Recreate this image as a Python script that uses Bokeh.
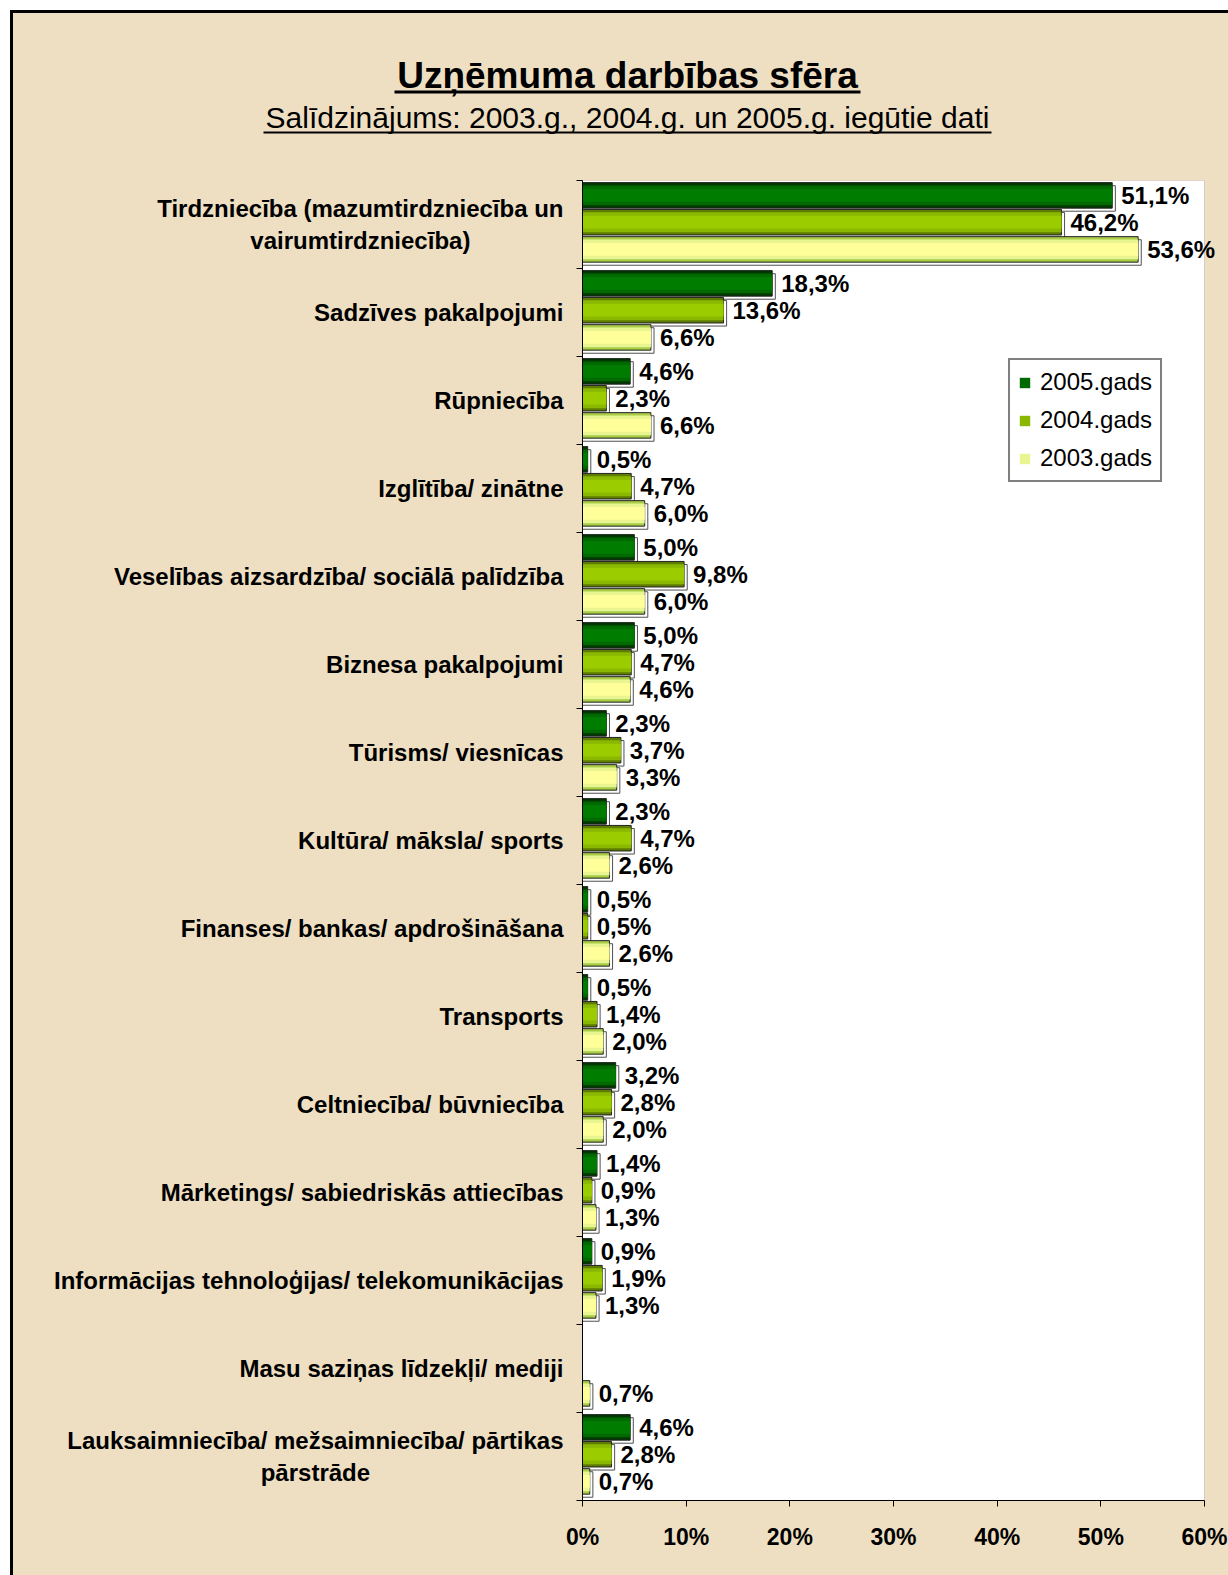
from bokeh.plotting import figure
from bokeh.layouts import column, row
from bokeh.models import (ColumnDataSource, FixedTicker, LabelSet, BoxAnnotation,
                          Legend, LegendItem, PrintfTickFormatter, Range1d)
from bokeh.transform import dodge
from bokeh.core.properties import value
from bokeh.embed import file_html
from bokeh.resources import INLINE

TITLE = "Uzņēmuma darbības sfēra"
SUBTITLE = "Salīdzinājums: 2003.g., 2004.g. un 2005.g. iegūtie dati"

categories = [
    "Tirdzniecība (mazumtirdzniecība un\nvairumtirdzniecība)",
    "Sadzīves pakalpojumi",
    "Rūpniecība",
    "Izglītība/ zinātne",
    "Veselības aizsardzība/ sociālā palīdzība",
    "Biznesa pakalpojumi",
    "Tūrisms/ viesnīcas",
    "Kultūra/ māksla/ sports",
    "Finanses/ bankas/ apdrošināšana",
    "Transports",
    "Celtniecība/ būvniecība",
    "Mārketings/ sabiedriskās attiecības",
    "Informācijas tehnoloģijas/ telekomunikācijas",
    "Masu saziņas līdzekļi/ mediji",
    "Lauksaimniecība/ mežsaimniecība/ pārtikas\npārstrāde",
]
y2005 = [51.1, 18.3, 4.6, 0.5, 5.0, 5.0, 2.3, 2.3, 0.5, 0.5, 3.2, 1.4, 0.9, None, 4.6]
y2004 = [46.2, 13.6, 2.3, 4.7, 9.8, 4.7, 3.7, 4.7, 0.5, 1.4, 2.8, 0.9, 1.9, None, 2.8]
y2003 = [53.6, 6.6, 6.6, 6.0, 6.0, 4.6, 3.3, 2.6, 2.6, 2.0, 2.0, 1.3, 1.3, 0.7, 0.7]
series_names = ["2005.gads", "2004.gads", "2003.gads"]
x_ticks = [0, 10, 20, 30, 40, 50, 60]
x_max = 60

FONT = "Liberation Sans"
BG = "#EEDFC2"
n = len(categories)
centers = [n - 0.5 - i for i in range(n)]

TOTAL_W = 1215
# ---------------- header (title + subtitle) ----------------
HH = 140
header = figure(width=TOTAL_W, height=HH, x_range=Range1d(0, TOTAL_W), y_range=Range1d(HH, 0),
                x_axis_type=None, y_axis_type=None, output_backend="svg",
                toolbar_location=None, min_border=0,
                background_fill_color=BG, border_fill_color=BG)
header.frame_align = False
header.outline_line_color = None
header.xgrid.visible = False
header.ygrid.visible = False
header.text(x=[614], y=[62], text=[TITLE], text_align="center", text_baseline="middle",
            text_font=value(FONT), text_font_size="37px", text_font_style="bold",
            text_color="black")
header.quad(left=[381], right=[847], top=[77], bottom=[80], fill_color="black",
            line_color=None)
header.text(x=[614], y=[104], text=[SUBTITLE], text_align="center", text_baseline="middle",
            text_font=value(FONT), text_font_size="30px", text_font_style="normal",
            text_color="black")
header.quad(left=[250], right=[978], top=[118], bottom=[120], fill_color="black",
            line_color=None)

# ---------------- main chart ----------------
MAIN_H = 1422
TOP_B, BOT_B = 27, 75
LAB_W = 552
LEFT_B = 17
frame_px = 622.0           # pixels for 0..60 %
extra_px = 24.0            # frame extends to the right edge of the canvas
y_range = Range1d(0, n)

p = figure(width=TOTAL_W - LAB_W, height=MAIN_H,
           x_range=Range1d(0, x_max * (frame_px + extra_px) / frame_px), y_range=y_range,
           output_backend="svg", toolbar_location=None,
           min_border_left=LEFT_B, min_border_right=0, min_border_top=TOP_B,
           min_border_bottom=BOT_B,
           background_fill_color=BG, border_fill_color=BG)
p.frame_align = False
p.outline_line_color = None
p.xgrid.visible = False
p.ygrid.visible = False

# white plot area 0..60 %
p.add_layout(BoxAnnotation(left=0, right=x_max, bottom=0, top=n, fill_color="white",
                           fill_alpha=1, line_color="#808080", line_width=1, level="underlay"))

# x axis
p.xaxis.bounds = (0, x_max)
p.xaxis.ticker = FixedTicker(ticks=x_ticks, minor_ticks=[])
p.xaxis.formatter = PrintfTickFormatter(format="%d%%")
p.xaxis.major_label_text_font = FONT
p.xaxis.major_label_text_font_size = "23px"
p.xaxis.major_label_text_font_style = "bold"
p.xaxis.major_label_text_color = "black"
p.xaxis.major_tick_out = 6
p.xaxis.major_tick_in = 0
p.xaxis.major_label_standoff = 17
p.xaxis.axis_line_color = "black"
p.xaxis.major_tick_line_color = "black"

# y axis: only boundary ticks (category names drawn in the label panel)
p.yaxis.bounds = (0, n)
p.yaxis.ticker = FixedTicker(ticks=[], minor_ticks=list(range(n + 1)))
p.yaxis.major_tick_line_color = None
p.yaxis.major_tick_out = 0
p.yaxis.major_tick_in = 0
p.yaxis.minor_tick_line_color = "black"
p.yaxis.minor_tick_out = 6
p.yaxis.minor_tick_in = 0
p.yaxis.axis_line_color = "black"

H = 0.29
offsets = [0.331, 0.026, -0.283]
styles = [
    ("#003800", "#006A00", "#007C00"),
    ("#5E7C00", "#8AB800", "#9ACC00"),
    ("#A8CC48", "#E8F590", "#FFFF99"),
]

def fmt(v):
    return f"{v:.1f}".replace(".", ",") + "%"

items = []
for vals, name, off, (edge, between, main) in zip([y2005, y2004, y2003], series_names, offsets, styles):
    idx = [i for i, v in enumerate(vals) if v is not None]
    src = ColumnDataSource(dict(
        y=[centers[i] for i in idx],
        v=[vals[i] for i in idx],
        lab=[fmt(vals[i]) for i in idx],
    ))
    p.hbar(y=dodge("y", off - 0.035), left=0, right=dodge("v", 0.3), height=H, source=src,
           fill_color="white", line_color="#505050", line_width=1)
    p.hbar(y=dodge("y", off), left=0, right="v", height=H, source=src,
           fill_color=edge, line_color="#222222", line_width=1)
    mid = p.hbar(y=dodge("y", off), left=0, right="v", height=H * 0.78, source=src,
                 fill_color=between, line_color=None)
    p.hbar(y=dodge("y", off), left=0, right="v", height=H * 0.5, source=src,
           fill_color=main, line_color=None)
    p.add_layout(LabelSet(x="v", y=dodge("y", off), text="lab", source=src, x_offset=9,
                          text_baseline="middle", text_align="left",
                          text_font=value(FONT), text_font_size="24px",
                          text_font_style="bold", text_color="black"))
    items.append(LegendItem(label=name, renderers=[mid]))

legend = Legend(items=items, location=(426, 1018), orientation="vertical",
                label_text_font=FONT, label_text_font_size="24px", label_text_color="black",
                glyph_width=13, glyph_height=13, label_standoff=9, label_height=26,
                spacing=10, padding=8, margin=0,
                border_line_color="black", border_line_width=2,
                background_fill_color="white", background_fill_alpha=1.0)
p.add_layout(legend)

# ---------------- category label panel (shares the y range) ----------------
lab = figure(width=LAB_W, height=MAIN_H, x_range=Range1d(0, LAB_W), y_range=y_range,
             x_axis_type=None, y_axis_type=None, output_backend="svg", toolbar_location=None,
             min_border_left=0, min_border_right=0, min_border_top=TOP_B, min_border_bottom=BOT_B,
             background_fill_color=BG, border_fill_color=BG)
lab.frame_align = False
lab.outline_line_color = None
lab.xgrid.visible = False
lab.ygrid.visible = False
cat_src = ColumnDataSource(dict(y=centers, name=categories, x=[LAB_W - 2] * n))
lab.text(x="x", y="y", text="name", source=cat_src, anchor=value("center_right"),
         text_align="center", text_baseline="middle", text_line_height=1.2,
         text_font=value(FONT), text_font_size="24px", text_font_style="bold",
         text_color="black")

layout = column(header, row(lab, p, spacing=0, styles={"background-color": BG}), spacing=0,
                styles={"margin-left": "10px", "margin-top": "10px",
                        "background-color": BG,
                        "border-left": "3px solid black", "border-top": "3px solid black"})

open("out.html", "w").write(file_html(layout, INLINE))
